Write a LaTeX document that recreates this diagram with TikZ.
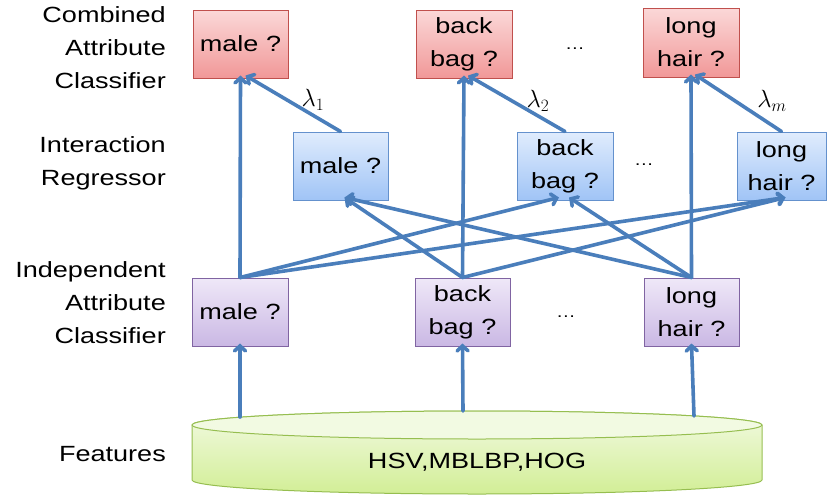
\documentclass[tikz,border=0pt]{standalone}
\usepackage{fontspec}
\setmainfont[FakeStretch=1.23]{Liberation Sans}
\usetikzlibrary{arrows.meta}
\definecolor{redtop}{RGB}{251,216,216}
\definecolor{redbot}{RGB}{241,152,152}
\definecolor{redline}{RGB}{192,80,77}
\definecolor{bluetop}{RGB}{224,236,253}
\definecolor{bluebot}{RGB}{160,196,246}
\definecolor{blueline}{RGB}{100,145,205}
\definecolor{purtop}{RGB}{239,232,248}
\definecolor{purbot}{RGB}{202,184,228}
\definecolor{purline}{RGB}{128,100,162}
\definecolor{cyltop}{RGB}{242,250,226}
\definecolor{cylbot}{RGB}{210,238,150}
\definecolor{cylline}{RGB}{150,190,80}
\definecolor{arrowc}{RGB}{74,126,187}
\begin{document}
\begin{tikzpicture}[x=1pt,y=-1pt,
  font=\fontsize{22}{33}\selectfont,
  box/.style={draw, line width=1pt, minimum width=96pt, minimum height=68pt,
    inner sep=0pt, align=center},
  redbox/.style={box, draw=redline, top color=redtop, bottom color=redbot},
  bluebox/.style={box, draw=blueline, top color=bluetop, bottom color=bluebot},
  purbox/.style={box, draw=purline, top color=purtop, bottom color=purbot},
  lab/.style={anchor=east, inner sep=0pt, align=right},
  arr/.style={draw=arrowc, line width=3.6pt, line cap=round,
    -{Straight Barb[length=5pt,width=11pt,line cap=round]}},
  dotsl/.style={anchor=base, inner sep=0pt, font=\fontsize{16}{16}\selectfont},
  lam/.style={inner sep=0pt, font=\fontsize{26}{26}\selectfont}
]
\useasboundingbox (0,0) rectangle (828,496);

% left labels
\node[lab] (l1) at (166,47.5) {Combined\\Attribute\\Classifier};
\node[lab] (l2) at (166,163) {Interaction\\Regressor};
\node[lab] (l3) at (166,303) {Independent\\Attribute\\Classifier};
\node[lab] (l4) at (166,454) {Features};

% features cylinder
\path[top color=cyltop, bottom color=cylbot, draw=cylline, line width=1pt]
  (192,425) -- (192,480) arc[start angle=180, end angle=0, x radius=285, y radius=14]
  -- (762,425) arc[start angle=0, end angle=-180, x radius=285, y radius=14] -- cycle;
\draw[fill=cyltop, draw=cylline, line width=1pt] (477,425) ellipse [x radius=285, y radius=14];
\node (feat) at (477,462) {HSV,MBLBP,HOG};
\coordinate (f1) at (240,417);
\coordinate (f2) at (463,411);
\coordinate (f3) at (694,416);

% combined
\node[redbox, minimum width=95pt] (cm) at (240.5,44) {male ?};
\node[redbox] (cb) at (464,44) {back\\bag ?};
\node[redbox, minimum height=69pt] (cl) at (691,42.5) {long\\hair ?};
\node[dotsl] (d1) at (575,49) {…};

% interaction
\node[bluebox, minimum width=95pt] (rm) at (340.5,166) {male ?};
\node[bluebox] (rb) at (565,166) {back\\bag ?};
\node[bluebox, minimum width=89pt] (rl) at (781.5,166) {long\\hair ?};
\node[dotsl] (d2) at (644,165) {…};

% independent
\node[purbox] (im) at (240,312) {male ?};
\node[purbox, minimum width=95pt] (ib) at (462.5,312) {back\\bag ?};
\node[purbox, minimum width=95pt] (il) at (691.5,312) {long\\hair ?};
\node[dotsl] (d3) at (566,317) {…};

% lambdas
\node[lam] (lam1) at (313,100) {$\lambda_1$};
\node[lam] (lam2) at (538,101) {$\lambda_2$};
\node[lam] (lam3) at (772,101) {$\lambda_m$};

% arrows features -> independent
\draw[arr] (f1) -- ([yshift=3pt]im.south);
\draw[arr] (f2) -- ([yshift=3pt]ib.south);
\draw[arr] (f3) -- ([yshift=3pt]il.south);

% independent -> combined
\draw[arr] (im.north) -- ([yshift=3pt]cm.south);
\draw[arr] (ib.north) -- ([yshift=3pt]cb.south);
\draw[arr] (il.north) -- ([yshift=3pt]cl.south);

% interaction -> combined
\draw[arr] (rm.north) -- ([xshift=5pt,yshift=3pt]cm.south);
\draw[arr] (rb.north) -- ([xshift=4pt,yshift=3pt]cb.south);
\draw[arr] (rl.north) -- ([xshift=4pt,yshift=3pt]cl.south);

% independent -> interaction
\draw[arr] (im.north) -- ([xshift=-6pt,yshift=3pt]rb.south);
\draw[arr] (im.north) -- ([xshift=4pt,yshift=3pt]rl.south);
\draw[arr] (ib.north) -- ([xshift=4pt,yshift=3pt]rm.south);
\draw[arr] (ib.north) -- ([xshift=4pt,yshift=3pt]rl.south);
\draw[arr] (il.north) -- ([xshift=4pt,yshift=3pt]rm.south);
\draw[arr] (il.north) -- ([xshift=4pt,yshift=3pt]rb.south);
\end{tikzpicture}
\end{document}
